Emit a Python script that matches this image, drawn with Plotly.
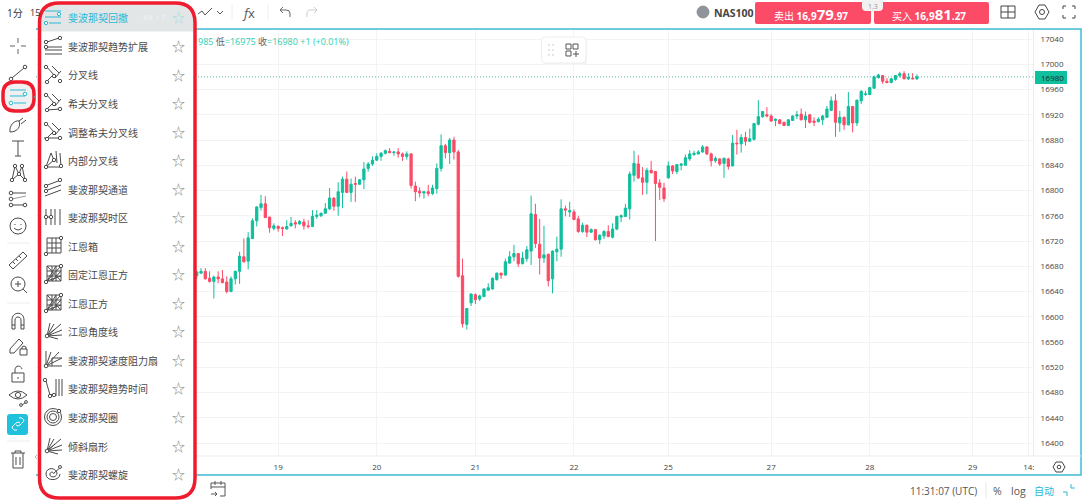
import plotly.graph_objs as go

W = 1083
H = 503

OPEN = [16665,
    16669,16672,16661,16656,16663,16660,16655,16640,16660,16672,
    16695,16688,16724,16752,16773,16779,16758,16740,16743,16741,
    16739,16744,16749,16747,16750,16744,16743,16759,16760,16764,
    16771,16788,16775,16797,16818,16797,16811,16810,16817,16835,
    16842,16848,16854,16859,16862,16860,16861,16858,16854,16858,
    16807,16799,16796,16798,16795,16803,16835,16871,16860,16880,
    16861,16665,16588,16622,16635,16628,16632,16642,16644,16659,
    16669,16666,16685,16695,16700,16684,16692,16704,16762,16715,
    16693,16699,16660,16703,16707,16771,16766,16766,16755,16735,
    16745,16734,16738,16722,16728,16735,16726,16739,16758,16759,
    16771,16824,16842,16820,16813,16832,16830,16812,16804,16820,
    16839,16830,16840,16840,16850,16857,16858,16861,16869,16858,
    16847,16850,16843,16850,16839,16875,16874,16884,16878,16881,
    16905,16917,16920,16918,16911,16912,16908,16903,16911,16918,
    16921,16912,16920,16910,16909,16912,16916,16927,16942,16907,
    16916,16904,16933,16907,16942,16952,16952,16962,16979,16982,
    16973,16971,16976,16982,16985,16977,16978,16977]
HIGH = [16672,
    16677,16677,16672,16665,16672,16674,16664,16664,16673,16703,
    16724,16734,16756,16775,16793,16791,16758,16748,16745,16743,
    16753,16758,16753,16753,16755,16753,16769,16769,16765,16780,
    16804,16789,16813,16822,16830,16819,16822,16818,16845,16845,
    16854,16859,16861,16865,16867,16862,16867,16860,16862,16859,
    16814,16805,16799,16809,16809,16843,16889,16874,16883,16885,
    16864,16692,16614,16637,16637,16635,16645,16653,16662,16670,
    16670,16692,16704,16714,16701,16703,16712,16792,16779,16755,
    16744,16700,16705,16727,16786,16776,16782,16770,16760,16749,
    16746,16740,16739,16731,16737,16745,16748,16760,16762,16779,
    16830,16863,16856,16837,16836,16847,16831,16818,16812,16846,
    16840,16842,16843,16857,16864,16863,16864,16872,16870,16860,
    16854,16851,16852,16852,16888,16896,16889,16893,16898,16907,
    16943,16926,16932,16921,16914,16913,16909,16913,16919,16926,
    16930,16925,16921,16916,16916,16920,16934,16949,16953,16926,
    16917,16956,16934,16944,16959,16958,16964,16982,16985,16983,
    16978,16978,16983,16988,16989,16986,16986,16984]
LOW = [16660,
    16668,16659,16654,16629,16653,16653,16637,16639,16651,16652,
    16686,16675,16723,16743,16768,16757,16733,16737,16735,16728,
    16738,16743,16740,16746,16738,16740,16742,16755,16758,16763,
    16769,16768,16760,16772,16796,16782,16782,16809,16802,16830,
    16839,16847,16847,16857,16859,16855,16852,16847,16849,16803,
    16783,16789,16787,16791,16793,16795,16830,16851,16842,16849,
    16662,16583,16580,16617,16620,16625,16631,16642,16643,16657,
    16660,16665,16684,16688,16679,16683,16687,16682,16709,16667,
    16685,16648,16637,16688,16695,16759,16758,16753,16733,16733,
    16726,16733,16721,16715,16723,16726,16724,16737,16750,16758,
    16754,16814,16818,16793,16794,16827,16720,16785,16782,16819,
    16826,16826,16832,16840,16847,16855,16857,16860,16856,16838,
    16844,16839,16820,16833,16838,16857,16860,16871,16877,16879,
    16903,16915,16916,16909,16902,16905,16902,16902,16910,16913,
    16911,16899,16906,16902,16908,16904,16915,16926,16885,16893,
    16896,16903,16892,16902,16937,16950,16951,16961,16977,16969,
    16970,16970,16974,16979,16976,16975,16976,16975]
CLOSE = [16671,
    16672,16660,16656,16663,16660,16654,16640,16660,16672,16696,
    16687,16725,16752,16774,16779,16757,16741,16744,16740,16740,
    16743,16748,16747,16751,16744,16743,16759,16761,16764,16771,
    16788,16775,16798,16818,16797,16810,16810,16817,16834,16842,
    16848,16854,16859,16863,16860,16861,16858,16854,16858,16808,
    16798,16796,16798,16795,16804,16835,16871,16860,16880,16861,
    16664,16589,16613,16636,16627,16633,16644,16646,16661,16669,
    16666,16687,16695,16700,16684,16693,16706,16763,16716,16693,
    16698,16657,16704,16707,16771,16769,16768,16754,16735,16745,
    16734,16738,16722,16729,16735,16727,16739,16759,16760,16772,
    16826,16843,16820,16813,16832,16828,16811,16805,16787,16839,
    16831,16841,16842,16852,16858,16859,16861,16869,16858,16847,
    16851,16842,16851,16838,16875,16874,16884,16878,16882,16906,
    16917,16925,16918,16910,16913,16906,16903,16912,16918,16920,
    16912,16918,16908,16908,16913,16918,16929,16942,16908,16916,
    16904,16933,16907,16943,16957,16953,16963,16980,16983,16973,
    16971,16977,16982,16985,16977,16979,16977,16980]

DAY_POS = [19, 42, 65, 88, 110, 134, 157, 181, 194.1]
DAY_LABELS = ["19", "20", "21", "22", "25", "27", "28", "29", "14:"]
PRICE_TICKS = list(range(16400, 17041, 40))
LAST_PRICE = 16980

MENU_ITEMS = ["斐波那契回撤", "斐波那契趋势扩展", "分叉线", "希夫分叉线", "调整希夫分叉线", "内部分叉线",
              "斐波那契通道", "斐波那契时区", "江恩箱", "固定江恩正方", "江恩正方", "江恩角度线",
              "斐波那契速度阻力扇", "斐波那契趋势时间", "斐波那契圈", "倾斜扇形", "斐波那契螺旋"]

UP = "#10bf9d"
DOWN = "#fb4b67"
TEAL = "#2bb9d6"
INK = "#4a4a4a"
RED = "#ee1c2e"
FONT = "Open Sans, Noto Sans CJK SC, sans-serif"

shapes = []
notes = []


def fx(x):
    return x / W


def fy(y):
    return 1 - y / H


def to_paper(d, cx=0, cy=0):
    out = []
    is_x = True
    for tok in d.split():
        if tok.isalpha():
            out.append(tok)
            is_x = True
        elif is_x:
            out.append(str(round(fx(float(tok) + cx), 5)))
            is_x = False
        else:
            out.append(str(round(fy(float(tok) + cy), 5)))
            is_x = True
    return " ".join(out)


def draw(cx, cy, d, color=INK, width=1, fill=None):
    s = dict(type="path", xref="paper", yref="paper", layer="above", path=to_paper(d, cx, cy),
             line=dict(color=color, width=width))
    if fill:
        s["fillcolor"] = fill
    shapes.append(s)


def ring(cx, cy, r, color=INK, width=1, fill="white"):
    shapes.append(dict(type="circle", xref="paper", yref="paper", layer="above",
                       x0=fx(cx - r), x1=fx(cx + r), y0=fy(cy + r), y1=fy(cy - r),
                       line=dict(color=color, width=width), fillcolor=fill))


def rrect(x0, y0, x1, y1, r, line=None, width=1, fill=None):
    d = f"M {x0+r} {y0} L {x1-r} {y0} Q {x1} {y0} {x1} {y0+r} L {x1} {y1-r} Q {x1} {y1} {x1-r} {y1} " \
        f"L {x0+r} {y1} Q {x0} {y1} {x0} {y1-r} L {x0} {y0+r} Q {x0} {y0} {x0+r} {y0} Z"
    shapes.append(dict(type="path", xref="paper", yref="paper", layer="above", path=to_paper(d),
                       line=dict(color=line or "rgba(0,0,0,0)", width=width),
                       fillcolor=fill or "rgba(0,0,0,0)"))


def label(x, y, text, size=10, color=INK, anchor="left"):
    notes.append(dict(xref="paper", yref="paper", x=fx(x), y=fy(y), text=text, showarrow=False,
                      xanchor=anchor, yanchor="middle", align=anchor, borderpad=0,
                      font=dict(size=size, color=color, family=FONT)))


def pitchfork(cx, cy, extra=""):
    draw(cx, cy, "M -7 -9 L 1 0 M -1 -9 L 6 -2 M 8 -4 L 2 3 M -6 6 L 0 0 " + extra)
    ring(cx - 7, cy - 8, 1.7)
    ring(cx - 6, cy + 7, 1.7)
    ring(cx + 1, cy + 1, 1.7)
    ring(cx + 7, cy + 6, 1.7)


def grid_icon(cx, cy, diag):
    draw(cx, cy, "M -6 -8 L 8 -8 L 8 7 L -6 7 Z M -1 -8 L -1 7 M 3 -8 L 3 7 M -6 -3 L 8 -3 M -6 2 L 8 2")
    if diag:
        draw(cx, cy, "M -6 7 L 8 -8 M -6 7 L 3 -8 M -6 7 L 8 2 M -6 -8 L 8 7 M 8 -3 L -1 7")
    ring(cx - 7, cy + 8, 1.7)
    ring(cx + 8, cy - 8, 1.7)


def fan(cx, cy):
    draw(cx, cy, "M -6 5 L -3 -8 M -6 5 L 1 -7 M -6 5 L 8 -7 M -6 5 L 9 -1 M -6 5 L 9 4 M -6 5 L 5 8 M -6 5 L 2 -2")
    ring(cx - 6, cy + 5, 1.8)


# candles
fig = go.Figure(go.Candlestick(
    x=list(range(len(CLOSE))), open=OPEN, high=HIGH, low=LOW, close=CLOSE,
    increasing=dict(line=dict(color=UP, width=1), fillcolor=UP),
    decreasing=dict(line=dict(color=DOWN, width=1), fillcolor=DOWN),
    whiskerwidth=0, hoverinfo="skip", showlegend=False))

# last price dotted line goes under the menu
shapes.append(dict(type="line", xref="paper", yref="y", x0=fx(36), x1=fx(1033), y0=LAST_PRICE, y1=LAST_PRICE,
                   layer="above", line=dict(color="rgba(16,150,125,0.7)", width=1, dash="1px,2px")))

# frame of the chart
draw(0, 0, "M 36 29 L 1081 29 L 1081 475 L 36 475", color="#3fbcd3", width=1.5)
draw(0, 0, "M 36 456 L 1081 456", color="#ececec")

# last price tag
shapes.append(dict(type="rect", xref="paper", yref="paper", layer="above", x0=fx(1035), x1=fx(1067),
                   y0=fy(84), y1=fy(71), fillcolor=UP, line=dict(width=0)))
label(1052.5, 77, "16980", 8, "#1d2b28", "center")

# popup menu
rrect(39.5, 3, 195, 498, 20, fill="white")
draw(0, 0, "M 41 31 L 41 18 Q 41 4 58 4 L 176 4 Q 193 4 193 18 L 193 31 Z", color="#e3e6e7", fill="#e3e6e7")
rrect(39.5, 3, 195, 498, 20, line=RED, width=3.5)

MENU_Y = [17, 46, 75, 103, 132, 160, 189, 217, 246, 274, 303, 331, 360, 388, 417, 446, 474]
for i, (name, y) in enumerate(zip(MENU_ITEMS, MENU_Y)):
    label(67, y + 0.5, name, 10, TEAL if i == 0 else INK)
    label(178, y, "☆", 13, "#a8dbe8" if i == 0 else "#8c8c8c", "center")
label(142, 17, "Alt + F", 8, "#eef4f5")

mx = 53
draw(mx, 17, "M -8 -6 L 8 -6 M -8 0 L 8 0 M -4 6 L 8 6", color=TEAL)
ring(mx + 6, 14, 1.7, TEAL)
ring(mx - 7, 23, 1.7, TEAL)
draw(mx, 46, "M -8 1 L 9 1 M -8 4 L 9 4 M -8 8 L 9 8 M -6 -4 L 6 -8")
ring(mx - 7, 42, 1.7)
ring(mx + 7, 38, 1.7)
ring(mx - 7, 47, 1.7)
pitchfork(mx, 75)
pitchfork(mx, 103, "M -6 7 L 7 6")
pitchfork(mx, 132, "M -9 6 L 7 6")
draw(mx, 160, "M -7 7 L -2 -7 L 1 0 M 3 -9 L 4 3 M 7 -7 L 8 7 M -7 7 L 8 7 M -7 7 L 2 -1")
ring(mx - 7, 7 + 160, 1.7)
ring(mx + 8, 6 + 160, 1.7)
ring(mx + 1, 160, 1.7)
draw(mx, 189, "M -8 -3 L 8 -9 M -8 2 L 8 -4 M -8 7 L 8 1")
ring(mx - 7, 186, 1.7)
ring(mx - 7, 191, 1.7)
ring(mx + 7, 180, 1.7)
draw(mx, 217, "M -7 -8 L -7 8 M -2 -8 L -2 8 M 2 -8 L 2 8 M 7 -8 L 7 8 M -7 0 L -2 0")
ring(mx - 7, 217, 1.7)
ring(mx - 2, 217, 1.7)
grid_icon(mx, 246, False)
grid_icon(mx, 274, True)
grid_icon(mx, 303, True)
fan(mx, 331)
draw(mx, 360, "M -7 -9 L -7 8 M -9 6 L 9 6 M -7 6 L -2 -8 M -7 6 L 6 -8 M -7 6 L 9 -2 M -1 -2 L 9 -2 M -1 -2 L -1 6")
ring(mx - 7, 366, 1.8)
draw(mx, 388, "M -7 -7 L -3 7 L 1 6 M 3 -9 L 3 8 M 6 -9 L 6 8 M 9 -9 L 9 8")
ring(mx - 8, 380, 1.7)
ring(mx - 3, 396, 1.7)
ring(mx + 1, 395, 1.7)
ring(mx, 417, 8.5, fill=None)
ring(mx, 417, 6, fill=None)
ring(mx, 417, 3.5, fill=None)
ring(mx + 6, 411, 1.7)
fan(mx, 446)
draw(mx, 474, "M 7 0 C 7 7 -7 8 -7 0 C -7 -7 3 -7 4 -1 C 4 4 -4 4 -3 0 C -3 -2 0 -3 1 0 M 1 -1 L 8 -7")
ring(mx + 7, 467, 1.5)

# left toolbar
tx = 18
draw(tx, 46, "M -8 0 L -3 0 M 3 0 L 8 0 M 0 -8 L 0 -3 M 0 3 L 0 8", color="#666666")
draw(tx, 73, "M -6 5 L 6 -5")
ring(tx - 7, 79, 1.8)
ring(tx + 7, 67, 1.8)
rrect(3, 82, 34, 111, 12, line=RED, width=3.5, fill="#f0f0f0")
draw(tx, 96, "M -8 -6 L 8 -6 M -8 0 L 7 0 M -4 7 L 8 7", color=TEAL)
ring(tx + 7, 94, 1.8, TEAL)
ring(tx - 7, 103, 1.8, TEAL)
draw(tx, 125, "M -8 7 C -9 0 -3 -5 1 -4 C 3 1 0 7 -8 7 M 1 -4 L 5 -7 M 3 -1 L 8 -5")
draw(tx, 148, "M -6 -7 L 6 -7 M 0 -7 L 0 8 M -3 8 L 3 8")
draw(tx, 172, "M -6 8 L -3 -6 L 1 2 L 4 -6 L 7 8 M -6 8 L 1 2 L 7 8")
for dx, dy in [(-6, 8), (-3, -6), (1, 2), (4, -6), (7, 8)]:
    ring(tx + dx, 172 + dy, 1.7)
draw(tx, 199, "M -6 -6 L 8 -6 M -6 6 L 8 6")
draw(tx, 199, "M -6 0 L 8 -3", color="#999999")
ring(tx - 7, 193, 1.8)
ring(tx - 7, 199, 1.8)
ring(tx - 7, 205, 1.8)
ring(tx + 7, 205, 1.8)
ring(tx, 226, 8, fill=None)
draw(tx, 226, "M -3 -2 L -3 -1 M 3 -2 L 3 -1 M -4 2 Q 0 6 4 2")
draw(tx, 261, "M -9 4 L 5 -9 L 9 -5 L -5 8 Z M -5 1 L -3 3 M -2 -2 L 0 0 M 1 -5 L 3 -3")
ring(tx, 284, 7, fill=None)
draw(tx, 284, "M -3 0 L 3 0 M 0 -3 L 0 3 M 5 5 L 9 9")
draw(tx, 321, "M -6 8 L -6 -1 C -6 -10 6 -10 6 -1 L 6 8 L 3 8 L 3 -1 C 3 -5 -3 -5 -3 -1 L -3 8 Z M -6 4 L -3 4 M 3 4 L 6 4")
draw(tx, 346, "M -8 7 L -8 3 L 1 -7 L 5 -3 L -4 7 Z M 2 3 L 9 3 L 9 9 L 2 9 Z M 4 3 L 4 1 Q 6 -1 8 1 L 8 3")
draw(tx, 374, "M -6 -1 L 6 -1 L 6 8 L -6 8 Z M -3 -1 L -3 -4 C -3 -9 3 -9 4 -5 M 0 3 L 0 5")
draw(tx, 396, "M -9 -1 Q 0 -9 9 -1 Q 0 7 -9 -1 M 4 9 L 7 7")
ring(tx, 395, 2.6, fill=None)
ring(tx + 3, 405, 1.4)
ring(tx + 8, 402, 1.4)
rrect(7, 414, 28, 435, 3, fill="#1fc1dc")
draw(tx, 424, "M -6 3 L -2 -1 M -2 -1 Q 0 -3 2 -1 M 6 -3 L 2 1 M 2 1 Q 0 3 -2 1 M -6 3 Q -5 7 -1 6 M 6 -3 Q 5 -7 1 -6", color="white")
draw(tx, 460, "M -7 -7 L 7 -7 M -3 -7 L -3 -9 L 3 -9 L 3 -7 M -5 -7 L -5 8 L 5 8 L 5 -7 M -2 -3 L -2 5 M 2 -3 L 2 5")
for y in [243, 303, 441]:
    draw(0, y, "M 7 0 L 30 0", color="#eeeeee")
draw(0, 97, "M 36 -2 L 34 0 L 36 2", color="#888888")
draw(0, 457, "M 37 -2 L 35 0 L 37 2", color="#bbbbbb")

# top bar
label(6, 13, "1分", 10, "#333333")
label(29, 13, "15", 9, "#333333")
draw(198, 12, "M 0 2 L 4 -1 L 7 3 L 14 -4", color="#555555")
draw(220, 12, "M -3 -1 L 0 2 L 3 -1", color="#555555")
draw(0, 12, "M 232 -8 L 232 8 M 268 -8 L 268 8", color="#eeeeee")
label(248, 13, "<i>f</i>x", 13, "#555555", "center")
draw(285, 12, "M 5 5 L 5 1 Q 5 -2 1 -2 L -5 -2 M -2 -5 L -5 -2 L -2 1", color="#666666")
draw(312, 12, "M -5 5 L -5 1 Q -5 -2 -1 -2 L 5 -2 M 2 -5 L 5 -2 L 2 1", color="#cccccc")

ring(703, 12, 6, color="#8f949a", fill="#8f949a")
label(713, 13, "<b>NAS100</b>", 10.5, "#444444")
rrect(755, 2, 871, 24, 2, fill=DOWN)
rrect(874, 2, 989, 24, 2, fill=DOWN)
rrect(862, -3, 883, 11, 4, fill="#f2f2f2")
label(872.5, 6, "1.3", 7, "#999999", "center")
label(811, 14, '卖出 <b>16,9<span style="font-size:15px">79</span>.97</b>', 10, "white", "center")
label(929, 14, '买入 <b>16,9<span style="font-size:15px">81</span>.27</b>', 10, "white", "center")
draw(1008, 12, "M -7 -6 L 7 -6 L 7 6 L -7 6 Z M 0 -6 L 0 6 M -7 0 L 7 0", color="#444444")
ring(1042, 12, 2.5, "#444444", fill=None)
draw(1042, 12, "M -3 -7 L 3 -7 L 7 0 L 3 7 L -3 7 L -7 0 Z", color="#444444")
draw(1069, 12, "M -6 -3 L -6 -6 L -3 -6 M 3 -6 L 6 -6 L 6 -3 M 6 3 L 6 6 L 3 6 M -3 6 L -6 6 L -6 3", color="#444444")

# legend text above the candles
g = '<span style="color:#2fcfb0">'
label(197, 41, g + '985</span> 低' + g + '=16975</span> 收' + g + '=16980 +1 (+0.01%)</span>', 9, "#666666")

# floating card
rrect(543, 38, 587, 65, 4, fill="#f4f4f4")
rrect(541.5, 37, 586, 63, 4, line="#eeeeee", fill="white")
for dy in [-5, 0, 5]:
    draw(549, 50 + dy, "M 0 -1 L 0 1 M 4 -1 L 4 1", color="#cccccc")
draw(572, 50, "M -6 -6 L -1 -6 L -1 -1 L -6 -1 Z M 1 -6 L 6 -6 L 6 -1 L 1 -1 Z M -6 1 L -1 1 L -1 6 L -6 6 Z M 1 4 L 7 4 M 4 1 L 4 7", color="#555555")

# bottom bar
draw(218, 489, "M -7 -6 L 7 -6 L 7 7 L 2 7 M -7 -6 L -7 0 M -7 -2 L 7 -2 M -3 -8 L -3 -4 M 3 -8 L 3 -4 M -7 5 L -1 5 M -3 3 L -1 5 L -3 7", color="#555555")
label(978, 490.5, "11:31:07 (UTC)", 10, "#555555", "right")
draw(986, 490, "M 0 -8 L 0 8", color="#e8e8e8")
label(997, 490.5, "%", 10.5, "#555555", "center")
label(1018, 490.5, "log", 10.5, "#555555", "center")
label(1044, 490.5, "自动", 10, TEAL, "center")
draw(1069, 490, "M -6 2 L -2 2 L -2 6 M 2 -6 L 2 -2 L 6 -2", color=TEAL)
draw(1059, 467, "M -3 -5 L 3 -5 L 6 0 L 3 5 L -3 5 L -6 0 Z", color="#444444")
ring(1059, 467, 1.8, "#444444", fill=None)

fig.update_layout(
    width=W, height=H, autosize=False, margin=dict(l=0, r=0, t=0, b=0),
    paper_bgcolor="white", plot_bgcolor="white", hovermode=False, boxgap=0.25,
    font=dict(family=FONT, size=10, color="#444444"),
    xaxis=dict(domain=[fx(36), fx(1033)], range=[-37.49, 195.07], rangeslider=dict(visible=False),
               tickmode="array", tickvals=DAY_POS, ticktext=DAY_LABELS, tickangle=0,
               showgrid=True, gridcolor="#f3f3f3", gridwidth=1, zeroline=False,
               ticks="outside", ticklen=3, tickcolor="white", showline=False, anchor="y",
               tickfont=dict(size=8, color="#444444")),
    yaxis=dict(domain=[fy(456), fy(29)], range=[16379.4, 17055.84], side="right",
               tickmode="array", tickvals=PRICE_TICKS, ticktext=[str(v) for v in PRICE_TICKS],
               showgrid=True, gridcolor="#f3f3f3", gridwidth=1, zeroline=False, anchor="x",
               ticks="outside", ticklen=5, tickcolor="white", showline=True, linecolor="#ececec",
               tickfont=dict(size=8, color="#444444")),
    shapes=shapes, annotations=notes)

fig.write_html("out.html", config=dict(displayModeBar=False), post_script="document.body.style.margin='0';")
